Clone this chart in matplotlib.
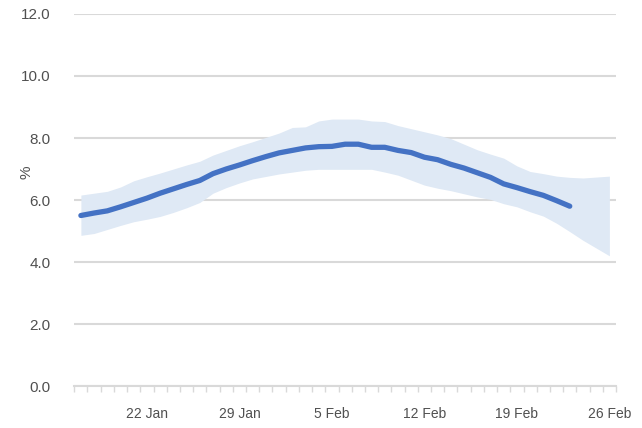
import numpy as np
import matplotlib
matplotlib.use('Agg')
import matplotlib.pyplot as plt
from matplotlib.ticker import FixedLocator, NullFormatter

plt.rcParams['font.family'] = ['Liberation Sans', 'DejaVu Sans']

# daily values, 17 Jan .. 26 Feb
dates = ['17 Jan', '18 Jan', '19 Jan', '20 Jan', '21 Jan', '22 Jan', '23 Jan', '24 Jan',
         '25 Jan', '26 Jan', '27 Jan', '28 Jan', '29 Jan', '30 Jan', '31 Jan', '1 Feb',
         '2 Feb', '3 Feb', '4 Feb', '5 Feb', '6 Feb', '7 Feb', '8 Feb', '9 Feb', '10 Feb',
         '11 Feb', '12 Feb', '13 Feb', '14 Feb', '15 Feb', '16 Feb', '17 Feb', '18 Feb',
         '19 Feb', '20 Feb', '21 Feb', '22 Feb', '23 Feb', '24 Feb', '25 Feb', '26 Feb']

central = [5.50, 5.58, 5.65, 5.78, 5.92, 6.06, 6.22, 6.36, 6.50, 6.63,
           6.85, 7.00, 7.13, 7.27, 7.40, 7.52, 7.60, 7.68, 7.72, 7.73,
           7.80, 7.80, 7.70, 7.70, 7.60, 7.53, 7.38, 7.30, 7.15, 7.03,
           6.88, 6.73, 6.52, 6.40, 6.27, 6.15, 5.98, 5.80]

upper = [6.16, 6.22, 6.28, 6.42, 6.62, 6.75, 6.87, 7.00, 7.13, 7.25,
         7.45, 7.60, 7.75, 7.88, 8.02, 8.16, 8.34, 8.36, 8.55, 8.61,
         8.61, 8.61, 8.55, 8.53, 8.40, 8.30, 8.20, 8.10, 7.98, 7.80,
         7.62, 7.48, 7.35, 7.10, 6.92, 6.85, 6.77, 6.73, 6.71, 6.74, 6.77]

lower = [4.86, 4.92, 5.05, 5.18, 5.30, 5.38, 5.47, 5.60, 5.75, 5.92,
         6.22, 6.40, 6.55, 6.68, 6.76, 6.84, 6.90, 6.96, 6.99, 6.99,
         6.99, 6.99, 6.99, 6.90, 6.80, 6.64, 6.48, 6.38, 6.30, 6.20,
         6.10, 6.02, 5.88, 5.78, 5.62, 5.48, 5.25, 4.98, 4.70, 4.45, 4.20]

label_dates = ['22 Jan', '29 Jan', '5 Feb', '12 Feb', '19 Feb', '26 Feb']
yticks = [0, 2, 4, 6, 8, 10, 12]

GRID = '#d9d9d9'
TXT = '#505050'

x_band = np.arange(len(upper))
x_line = np.arange(len(central))

fig = plt.figure(figsize=(6.42, 4.28), dpi=100)
ax = fig.add_axes([0.1157, 0.0981, 0.8438, 0.8692])

ax.fill_between(x_band, lower, upper, color='#dfe9f5', linewidth=0, zorder=1)
ax.plot(x_line, central, color='#4472c4', linewidth=3.8, solid_capstyle='round', zorder=3)

ax.set_xlim(-0.5, len(dates) - 0.5)
ax.set_ylim(0, 12)

ax.set_yticks(yticks)
ax.set_yticklabels([f'{v:.1f}' for v in yticks])
ax.yaxis.grid(True, color=GRID, linewidth=1.5, zorder=0)
ax.tick_params(axis='y', length=0, pad=17, labelsize=11, labelcolor=TXT)

pos = [dates.index(d) for d in label_dates]
ax.set_xticks(pos)
ax.set_xticklabels(label_dates)
ax.tick_params(axis='x', which='major', length=0, pad=15, labelsize=10, labelcolor=TXT)
ax.xaxis.set_minor_locator(FixedLocator(np.arange(-0.5, len(dates), 1.0)))
ax.xaxis.set_minor_formatter(NullFormatter())
ax.tick_params(axis='x', which='minor', length=4, width=1, color=GRID, direction='out')

for s in ['top', 'right', 'left']:
    ax.spines[s].set_visible(False)
ax.spines['bottom'].set_color(GRID)
ax.spines['bottom'].set_linewidth(1.5)
ax.set_axisbelow(True)

ax.set_ylabel('%', fontsize=11, color=TXT)
ax.yaxis.set_label_coords(-0.076, 0.575)

fig.savefig('out.png', dpi=100)
